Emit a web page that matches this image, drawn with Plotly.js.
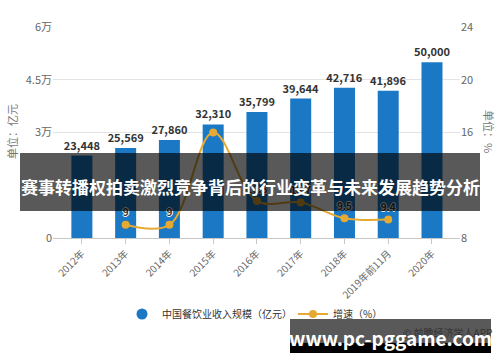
<!DOCTYPE html>
<html>
<head>
<meta charset="utf-8">
<script src="https://cdn.plot.ly/plotly-3.0.1.min.js"></script>
<style>html,body{margin:0;padding:0;background:#fff;}#chart{width:500px;height:362px;}</style>
</head>
<body>
<div id="chart"></div>
<script>
var categories = ['2012年','2013年','2014年','2015年','2016年','2017年','2018年','2019年前11月','2020年'];
var revenue = [23448, 25569, 27860, 32310, 35799, 39644, 42716, 41896, 50000];
var growth = [null, 9, 9, 16, 10.8, 10.7, 9.5, 9.4, null];
var growthLabels = ['', '9', '9', '', '10.8', '10.7', '9.5', '9.4', ''];
var leftTickVals = [0, 30000, 45000, 60000];
var leftTickText = ['0', '3万', '4.5万', '6万'];
var rightTickVals = [8, 16, 20, 24];
var seriesNames = ['中国餐饮业收入规模（亿元）', '增速（%）'];
var bannerTitle = '赛事转播权拍卖激烈竞争背后的行业变革与未来发展趋势分析';
var siteText = 'www.pc-pggame.com';
var sourceText = '© 前瞻经济学人APP';

var FONT = '"Noto Sans CJK SC", "Noto Sans", sans-serif';
var BLUE = '#1b78c4';
var GOLD = '#e6aa33';

function px(x){ return (x - 53) / 407; }
function py(y){ return (238 - y) / 211; }

var traces = [
  {
    type: 'bar', x: categories, y: revenue, marker: {color: BLUE},
    width: 0.48, showlegend: false, hoverinfo: 'skip',
    text: revenue, texttemplate: '%{y:,}', textposition: 'outside', constraintext: 'none',
    textfont: {family: FONT, size: 11, color: '#333', weight: 'bold'},
    cliponaxis: false
  },
  {
    type: 'scatter', mode: 'markers', x: [null], y: [null], name: seriesNames[0],
    marker: {color: BLUE, size: 11, symbol: 'circle'}, showlegend: true
  },
  {
    type: 'scatter', mode: 'lines+markers+text', x: categories, y: growth, yaxis: 'y2',
    name: seriesNames[1],
    line: {color: GOLD, width: 2, shape: 'spline', smoothing: 1},
    marker: {color: GOLD, size: 8},
    text: growthLabels, textposition: 'top center',
    textfont: {family: FONT, size: 10, color: '#333', weight: 'bold',
      shadow: '1px 0 0 #fff, -1px 0 0 #fff, 0 1px 0 #fff, 0 -1px 0 #fff'},
    cliponaxis: false, connectgaps: false
  }
];

function note(x, y, text, font, extra){
  var a = {xref: 'paper', yref: 'paper', x: px(x), y: py(y), xanchor: 'center', yanchor: 'middle',
           text: text, showarrow: false, font: font};
  if (extra) for (var k in extra) a[k] = extra[k];
  return a;
}

var layout = {
  width: 500, height: 362,
  margin: {l: 53, r: 40, t: 27, b: 124, autoexpand: false},
  paper_bgcolor: '#fff', plot_bgcolor: '#fff',
  font: {family: FONT, size: 11, color: '#666'},
  xaxis: {
    type: 'category', range: [-0.66, 8.64], tickangle: -45,
    tickfont: {family: FONT, size: 10, color: '#666'},
    showgrid: false, showline: true, linecolor: '#c8c8c8', linewidth: 1,
    ticks: 'outside', ticklen: 5, tickcolor: '#c8c8c8', zeroline: false
  },
  yaxis: {
    range: [0, 60000], tickvals: leftTickVals, ticktext: leftTickText,
    tickfont: {family: FONT, size: 11, color: '#666'},
    gridcolor: '#e3e3e3', gridwidth: 1, zeroline: false, showline: false
  },
  yaxis2: {
    overlaying: 'y', side: 'right', range: [8, 24], tickvals: rightTickVals,
    tickfont: {family: FONT, size: 11, color: '#666'},
    showgrid: false, zeroline: false, showline: false
  },
  legend: {
    orientation: 'h', x: px(122), xanchor: 'left', y: py(314), yanchor: 'middle',
    bgcolor: 'rgba(0,0,0,0)', entrywidth: 126, entrywidthmode: 'pixels',
    font: {family: FONT, size: 10, color: '#333'}, itemwidth: 30
  },
  shapes: [
    {type: 'rect', xref: 'paper', yref: 'paper', layer: 'above',
     x0: px(20), x1: px(480), y0: py(211), y1: py(153),
     fillcolor: 'rgba(0,0,0,0.65)', line: {width: 0}},
    {type: 'rect', xref: 'paper', yref: 'paper', layer: 'above',
     x0: px(290), x1: px(491), y0: py(343), y1: py(319),
     fillcolor: 'rgba(0,0,0,0.65)', line: {width: 0}},
    {type: 'rect', xref: 'paper', yref: 'paper', layer: 'above',
     x0: px(290), x1: px(491), y0: py(353), y1: py(343),
     fillcolor: '#000', line: {width: 0}}
  ],
  annotations: [
    note(12, 132, '单位：亿元', {family: FONT, size: 11, color: '#777'}, {textangle: -90}),
    note(489, 131, '单位：%', {family: FONT, size: 11, color: '#777'}, {textangle: 90}),
    note(250, 186, bannerTitle, {family: FONT, size: 17, color: '#fff', weight: 'bold'}),
    note(447, 332, sourceText, {family: FONT, size: 10, color: '#333'}),
    note(390.5, 337, siteText, {family: FONT, size: 19, color: '#fff', weight: 'bold'})
  ]
};

Plotly.newPlot('chart', traces, layout, {displayModeBar: false, staticPlot: true});
</script>
</body>
</html>
